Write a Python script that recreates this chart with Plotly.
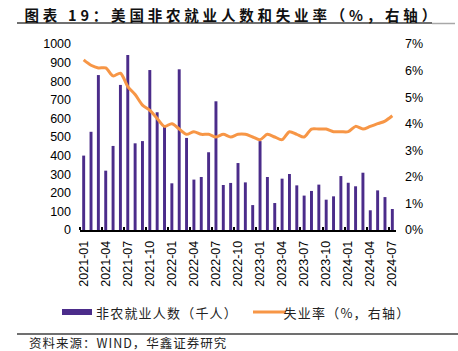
import plotly.graph_objects as go

months = [
    "2021-01", "2021-02", "2021-03", "2021-04", "2021-05", "2021-06", "2021-07", "2021-08", "2021-09", "2021-10", "2021-11", "2021-12",
    "2022-01", "2022-02", "2022-03", "2022-04", "2022-05", "2022-06", "2022-07", "2022-08", "2022-09", "2022-10", "2022-11", "2022-12",
    "2023-01", "2023-02", "2023-03", "2023-04", "2023-05", "2023-06", "2023-07", "2023-08", "2023-09", "2023-10", "2023-11", "2023-12",
    "2024-01", "2024-02", "2024-03", "2024-04", "2024-05", "2024-06", "2024-07",
]
payrolls = [400, 528, 833, 319, 452, 780, 941, 466, 478, 860, 633, 556,
            251, 864, 495, 271, 285, 418, 692, 242, 253, 360, 256, 134,
            478, 285, 145, 276, 301, 240, 185, 210, 244, 163, 181, 290,
            254, 235, 308, 106, 213, 177, 113]
unemp = [6.4, 6.2, 6.1, 6.1, 5.8, 5.9, 5.4, 5.1, 4.7, 4.5, 4.2, 3.9,
         4.0, 3.8, 3.6, 3.7, 3.6, 3.6, 3.5, 3.6, 3.5, 3.6, 3.6, 3.5,
         3.4, 3.6, 3.5, 3.4, 3.7, 3.6, 3.5, 3.8, 3.8, 3.8, 3.7, 3.7,
         3.7, 3.9, 3.8, 3.9, 4.0, 4.1, 4.3]

title_text = "图表 19：美国非农就业人数和失业率（%，右轴）"
bar_name = "非农就业人数（千人）"
line_name = "失业率（%，右轴）"
source_text = "资料来源：WIND，华鑫证券研究"

BAR_COLOR = "#4B2C8A"
LINE_COLOR = "#F79646"
CJK = "Noto Sans CJK SC"
LAT = "Liberation Sans, Arial"

W, H = 458, 351
L, R, T, B = 80, 396, 44, 230


def px(x):
    return (x - L) / (R - L)


def py(y):
    return (B - y) / (B - T)


idx = list(range(len(months)))

fig = go.Figure()
fig.add_trace(go.Bar(x=idx, y=payrolls, name=bar_name, marker_color=BAR_COLOR,
                     marker_line_width=0, width=0.4, yaxis="y"))
fig.add_trace(go.Scatter(x=idx, y=unemp, name=line_name, mode="lines",
                         line=dict(color=LINE_COLOR, width=3, shape="spline", smoothing=0.8),
                         yaxis="y2"))

shapes = [
    dict(type="line", xref="paper", yref="paper", x0=px(17), x1=px(432), y0=py(23), y1=py(23),
         line=dict(color="#404040", width=1.5)),
    dict(type="line", xref="paper", yref="paper", x0=px(432), x1=px(455), y0=py(23.5), y1=py(23.5),
         line=dict(color="#A8A8A8", width=1.5)),
    dict(type="line", xref="paper", yref="paper", x0=px(17), x1=px(458), y0=py(334), y1=py(334),
         line=dict(color="#404040", width=1.5)),
    dict(type="rect", xref="paper", yref="paper", x0=px(62), x1=px(92), y0=py(315), y1=py(309),
         fillcolor=BAR_COLOR, line=dict(width=0)),
    dict(type="line", xref="paper", yref="paper", x0=px(253), x1=px(286), y0=py(312), y1=py(312),
         line=dict(color=LINE_COLOR, width=3)),
]

# texts are centred on the reference's text extents (letter spacing grows symmetrically)
annotations = [
    dict(text="<b>" + title_text + "</b>", xref="paper", yref="paper", x=px(232), y=py(15),
         xanchor="center", yanchor="middle", showarrow=False,
         font=dict(family=CJK, size=14.5, color="#111111")),
    dict(text=bar_name, xref="paper", yref="paper", x=px(167), y=py(312),
         xanchor="center", yanchor="middle", showarrow=False,
         font=dict(family=CJK, size=13, color="#222222")),
    dict(text=line_name, xref="paper", yref="paper", x=px(347), y=py(312),
         xanchor="center", yanchor="middle", showarrow=False,
         font=dict(family=CJK, size=13, color="#222222")),
    dict(text=source_text, xref="paper", yref="paper", x=px(128), y=py(342),
         xanchor="center", yanchor="middle", showarrow=False,
         font=dict(family=CJK, size=12.5, color="#222222")),
]

fig.update_layout(
    width=W, height=H,
    margin=dict(l=L, r=W - R, t=T, b=H - B, pad=0),
    paper_bgcolor="white", plot_bgcolor="white",
    showlegend=False,
    shapes=shapes,
    annotations=annotations,
    xaxis=dict(
        range=[-0.5, len(months) - 0.5],
        tickmode="array",
        tickvals=idx[::3],
        ticktext=months[::3],
        tickangle=-90,
        ticks="",
        ticklabelstandoff=4,
        showline=True, linecolor="#000000", linewidth=1.5,
        showgrid=False, zeroline=False,
        tickfont=dict(family=LAT, size=12.5, color="#000000"),
        minor=dict(tickmode="array", tickvals=[i - 0.5 for i in idx[::3]],
                   ticks="inside", ticklen=3, tickwidth=1.5, tickcolor="#000000", showgrid=False),
    ),
    yaxis=dict(
        range=[0, 1000], dtick=100, tick0=0,
        showline=False, showgrid=False, zeroline=False, ticks="",
        ticklabelstandoff=8,
        tickfont=dict(family=LAT, size=12.5, color="#000000"),
    ),
    yaxis2=dict(
        range=[0, 7], dtick=1, tick0=0, overlaying="y", side="right",
        ticksuffix="%",
        showline=False, showgrid=False, zeroline=False, ticks="",
        ticklabelstandoff=8,
        tickfont=dict(family=LAT, size=12.5, color="#000000"),
    ),
)

spacing_js = """
var gd = document.querySelector('.js-plotly-plot');
function applySpacing() {
  var sp = ['3.8px', '1.2px', '1.2px', '1px'];
  var texts = document.querySelectorAll('.annotation-text');
  texts.forEach(function (t, i) { if (i < sp.length) { t.style.letterSpacing = sp[i]; } });
}
applySpacing();
if (gd && gd.on) { gd.on('plotly_afterplot', applySpacing); }
"""

fig.write_html("out.html", post_script=spacing_js)
